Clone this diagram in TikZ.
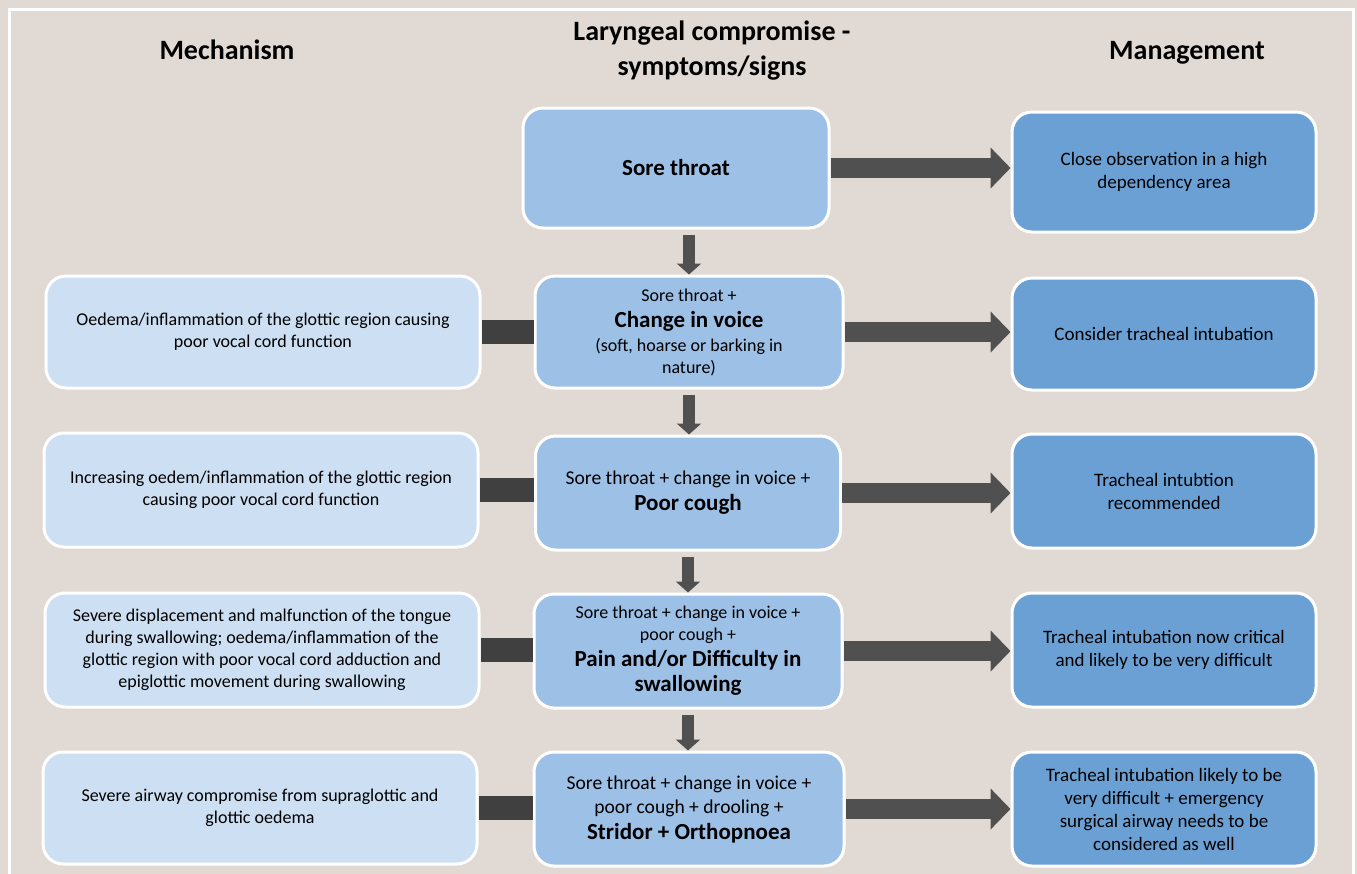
\documentclass[tikz,border=0pt]{standalone}
\usepackage{fontspec}
\setmainfont{Carlito}
\usetikzlibrary{arrows.meta}

\definecolor{bgcol}{HTML}{E1DAD4}
\definecolor{mechcol}{HTML}{CDDFF2}
\definecolor{sympcol}{HTML}{9DC0E6}
\definecolor{mgmtcol}{HTML}{6AA0D4}
\definecolor{arrcol}{HTML}{505050}
\definecolor{barcol}{HTML}{404040}

\newcommand{\keysign}[1]{{\fontsize{11.5}{14}\selectfont\bfseries #1}}

\begin{document}
\begin{tikzpicture}[x=0.5pt,y=-0.5pt,
    box/.style={draw=white,line width=1.5pt,rounded corners=10pt,align=center,inner sep=2pt},
    mech/.style={box,fill=mechcol,minimum width=217pt,minimum height=57pt,font=\fontsize{9}{11}\selectfont},
    symp/.style={box,fill=sympcol,minimum width=154pt,minimum height=57pt,font=\fontsize{9}{11}\selectfont},
    mgmt/.style={box,fill=mgmtcol,minimum width=152pt,minimum height=57pt,font=\fontsize{9.5}{11.5}\selectfont},
    head/.style={font=\bfseries\fontsize{14}{17.5}\selectfont,align=center},
    rarrow/.style={draw=arrcol,line width=10pt,-{Triangle[width=20pt,length=10pt]}},
    darrow/.style={draw=arrcol,line width=6pt,-{Triangle[width=12pt,length=5.5pt]},shorten <=2.5pt},
    link/.style={draw=barcol,line width=12pt}]

  \useasboundingbox[fill=bgcol] (0,0) rectangle (1357,874);
  \draw[white,line width=1.5pt] (9,9) rectangle (1353,900);

  % column titles
  \node[head,anchor=base] (tmech) at (227,59) {Mechanism};
  \node[head] (tsymp) at (712,51) {Laryngeal compromise -\\symptoms/signs};
  \node[head,anchor=base] (tmgmt) at (1187,59) {Management};

  % row 1
  \node[symp,minimum width=153pt,minimum height=60pt] (m1) at (676,168) {\keysign{Sore throat}};
  \node[mgmt,minimum height=60pt] (r1) at (1164,172) {Close observation in a high\\dependency area};

  % row 2
  \node[mech,minimum height=56pt] (l2) at (263,332) {Oedema/inflammation of the glottic region causing\\poor vocal cord function};
  \node[symp,minimum height=56pt] (m2) at (689,332) {Sore throat +\\[2pt]\keysign{Change in voice}\\[1pt](soft, hoarse or barking in\\nature)};
  \node[mgmt,minimum height=56pt] (r2) at (1164,334) {Consider tracheal intubation};

  % row 3
  \node[mech] (l3) at (261,490) {Increasing oedem/inflammation of the glottic region\\causing poor vocal cord function};
  \node[symp,minimum width=152.5pt,font=\fontsize{9.8}{12}\selectfont] (m3) at (688,493) {Sore throat + change in voice +\\[1pt]\keysign{Poor cough}};
  \node[mgmt] (r3) at (1164,491) {Tracheal intubtion\\recommended};

  % row 4
  \node[mech] (l4) at (262,650) {Severe displacement and malfunction of the tongue\\during swallowing; oedema/inflammation of the\\glottic region with poor vocal cord adduction and\\epiglottic movement during swallowing};
  \node[symp] (m4) at (688,651) {Sore throat + change in voice +\\poor cough +\\[2pt]\keysign{Pain and/or Difficulty in}\\[1.5pt]\keysign{swallowing}};
  \node[mgmt] (r4) at (1164,650) {Tracheal intubation now critical\\and likely to be very difficult};

  % row 5
  \node[mech,minimum height=56pt] (l5) at (260,808) {Severe airway compromise from supraglottic and\\glottic oedema};
  \node[symp,minimum width=155pt,font=\fontsize{9.8}{12}\selectfont] (m5) at (689,809) {Sore throat + change in voice +\\poor cough + drooling +\\[1pt]\keysign{Stridor + Orthopnoea}};
  \node[mgmt] (r5) at (1164,809) {Tracheal intubation likely to be\\very difficult + emergency\\surgical airway needs to be\\considered as well};

  % symptoms to management
  \draw[rarrow] (m1.east) -- (m1.east -| r1.west);
  \draw[rarrow] (m2.east) -- (m2.east -| r2.west);
  \draw[rarrow] (m3.east) -- (m3.east -| r3.west);
  \draw[rarrow] (m4.east) -- (m4.east -| r4.west);
  \draw[rarrow] (m5.east) -- (m5.east -| r5.west);

  % progression
  \draw[darrow] (m1.south -| m2.north) -- (m2.north);
  \draw[darrow] (m2.south) -- (m2.south |- m3.north);
  \draw[darrow] (m3.south) -- (m3.south |- m4.north);
  \draw[darrow] (m4.south) -- (m4.south |- m5.north);

  % mechanism links
  \draw[link] (l2.east) -- (l2.east -| m2.west);
  \draw[link] (l3.east) -- (l3.east -| m3.west);
  \draw[link] (l4.east) -- (l4.east -| m4.west);
  \draw[link] (l5.east) -- (l5.east -| m5.west);
\end{tikzpicture}
\end{document}
